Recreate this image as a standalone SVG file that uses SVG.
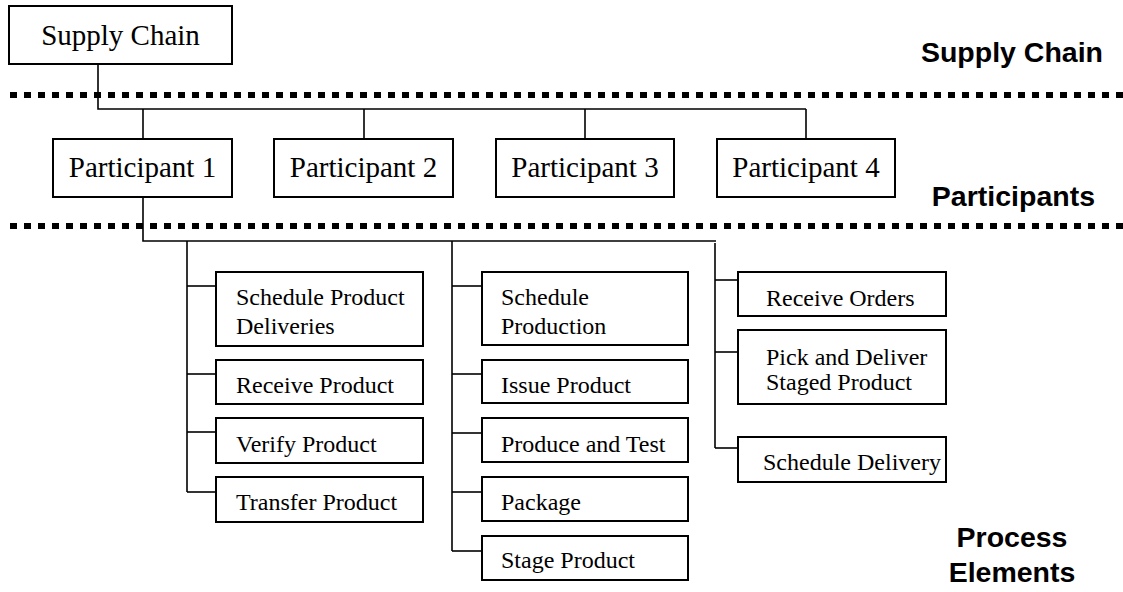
<svg xmlns="http://www.w3.org/2000/svg" width="1123" height="592" viewBox="0 0 1123 592">
<style>
.box{fill:#fff;stroke:#000;stroke-width:2}
.big{font-family:"Liberation Serif","Times New Roman",serif;font-size:29px;fill:#000;text-anchor:middle}
.pe{font-family:"Liberation Serif","Times New Roman",serif;font-size:24px;fill:#000}
.lbl{font-family:"Liberation Sans",Arial,sans-serif;font-size:28.5px;font-weight:bold;fill:#000}
.sep{stroke:#000;stroke-width:6;stroke-dasharray:7 7;fill:none}
.conn{stroke:#000;stroke-width:1.6;fill:none}
</style>
<rect width="1123" height="592" fill="#fff"/>
<g id="separators">
<line class="sep" x1="10" y1="95" x2="1123" y2="95"/>
<line class="sep" x1="10" y1="226" x2="1123" y2="226"/>
</g>
<g id="connectors">
<polyline class="conn" points="98,64 98,109 806,109"/>
<line class="conn" x1="143" y1="109" x2="143" y2="139"/>
<line class="conn" x1="364" y1="109" x2="364" y2="139"/>
<line class="conn" x1="585" y1="109" x2="585" y2="139"/>
<line class="conn" x1="806" y1="109" x2="806" y2="139"/>
<polyline class="conn" points="143,197 143,241 716,241"/>
<line class="conn" x1="187" y1="241" x2="187" y2="492"/>
<line class="conn" x1="452" y1="241" x2="452" y2="551"/>
<line class="conn" x1="715" y1="243" x2="715" y2="448"/>
<line class="conn" x1="187" y1="286" x2="216" y2="286"/>
<line class="conn" x1="187" y1="374" x2="216" y2="374"/>
<line class="conn" x1="187" y1="432" x2="216" y2="432"/>
<line class="conn" x1="187" y1="492" x2="216" y2="492"/>
<line class="conn" x1="452" y1="286" x2="482" y2="286"/>
<line class="conn" x1="452" y1="374" x2="482" y2="374"/>
<line class="conn" x1="452" y1="433" x2="482" y2="433"/>
<line class="conn" x1="452" y1="492" x2="482" y2="492"/>
<line class="conn" x1="452" y1="551" x2="482" y2="551"/>
<line class="conn" x1="715" y1="280" x2="738" y2="280"/>
<line class="conn" x1="715" y1="352" x2="738" y2="352"/>
<line class="conn" x1="715" y1="448" x2="738" y2="448"/>
</g>
<g id="supply-chain"><rect class="box" x="9" y="6" width="223" height="58"/><text class="big" x="120.5" y="45">Supply Chain</text></g>
<g id="participant-1"><rect class="box" x="53" y="139" width="179" height="58"/><text class="big" x="142.5" y="177">Participant 1</text></g>
<g id="participant-2"><rect class="box" x="274" y="139" width="179" height="58"/><text class="big" x="363.5" y="177">Participant 2</text></g>
<g id="participant-3"><rect class="box" x="496" y="139" width="178" height="58"/><text class="big" x="585" y="177">Participant 3</text></g>
<g id="participant-4"><rect class="box" x="717" y="139" width="178" height="58"/><text class="big" x="806" y="177">Participant 4</text></g>
<g id="schedule-product-deliveries"><rect class="box" x="216" y="272" width="207" height="74"/><text class="pe" x="236" y="305">Schedule Product</text><text class="pe" x="236" y="334">Deliveries</text></g>
<g id="receive-product"><rect class="box" x="216" y="360" width="207" height="44"/><text class="pe" x="236" y="393">Receive Product</text></g>
<g id="verify-product"><rect class="box" x="216" y="418" width="207" height="45"/><text class="pe" x="236" y="452">Verify Product</text></g>
<g id="transfer-product"><rect class="box" x="216" y="477" width="207" height="45"/><text class="pe" x="236" y="510">Transfer Product</text></g>
<g id="schedule-production"><rect class="box" x="482" y="272" width="206" height="73"/><text class="pe" x="501" y="305">Schedule</text><text class="pe" x="501" y="334">Production</text></g>
<g id="issue-product"><rect class="box" x="482" y="360" width="206" height="43"/><text class="pe" x="501" y="393">Issue Product</text></g>
<g id="produce-and-test"><rect class="box" x="482" y="418" width="206" height="44"/><text class="pe" x="501" y="452">Produce and Test</text></g>
<g id="package"><rect class="box" x="482" y="477" width="206" height="44"/><text class="pe" x="501" y="510">Package</text></g>
<g id="stage-product"><rect class="box" x="482" y="536" width="206" height="44"/><text class="pe" x="501" y="568">Stage Product</text></g>
<g id="receive-orders"><rect class="box" x="738" y="272" width="208" height="44"/><text class="pe" x="766" y="306">Receive Orders</text></g>
<g id="pick-and-deliver"><rect class="box" x="738" y="330" width="208" height="74"/><text class="pe" x="766" y="365">Pick and Deliver</text><text class="pe" x="766" y="390">Staged Product</text></g>
<g id="schedule-delivery"><rect class="box" x="738" y="437" width="208" height="45"/><text class="pe" x="763" y="470">Schedule Delivery</text></g>
<g id="layer-labels">
<text class="lbl" x="1103" y="62" text-anchor="end">Supply Chain</text>
<text class="lbl" x="1095" y="206" text-anchor="end">Participants</text>
<text class="lbl" x="1012" y="547" text-anchor="middle">Process</text>
<text class="lbl" x="1012" y="582" text-anchor="middle">Elements</text>
</g>
</svg>
